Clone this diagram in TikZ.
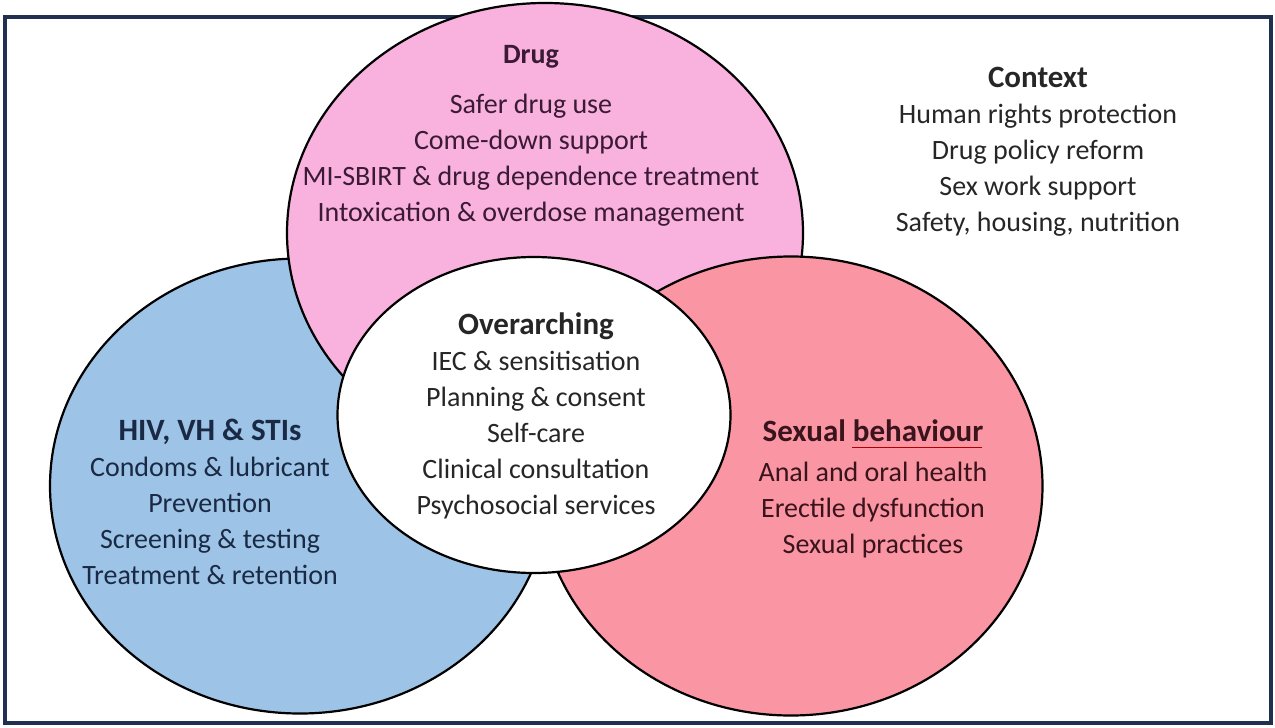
\documentclass[tikz,border=0pt]{standalone}
\usepackage{fontspec}
\setmainfont{Carlito}
\usetikzlibrary{shapes.geometric,positioning}
\definecolor{drugpink}{HTML}{F9B1DE}
\definecolor{hivblue}{HTML}{9DC3E6}
\definecolor{sexred}{HTML}{FA95A3}
\definecolor{framenavy}{HTML}{1F3050}
\definecolor{drugtext}{HTML}{3A1A35}
\definecolor{hivtext}{HTML}{1A2A45}
\definecolor{sextext}{HTML}{3A141C}
\definecolor{greytext}{HTML}{262626}
\newcommand{\settitle}[1]{{\fontsize{31}{36}\selectfont\bfseries #1}}
\tikzset{
  venn/.style={ellipse, draw=black, line width=2.2pt, inner sep=0pt, outer sep=0pt},
  blocktext/.style={align=center, inner sep=0pt, font=\fontsize{28}{36}\selectfont},
}

\begin{document}
\begin{tikzpicture}[x=1pt,y=-1pt]
	\useasboundingbox (0,0) rectangle (1275,728);
	\draw [framenavy, line width=4pt] (5,17) rectangle (1271,723);
	% the four sets
	\node [venn, fill=hivblue, minimum width=500pt, minimum height=455pt] (hiv) at (300,486) {};
	\node [venn, fill=drugpink, minimum width=516pt, minimum height=460pt] (drug) at (545,233) {};
	\node [venn, fill=sexred, minimum width=503pt, minimum height=459pt] (sex) at (791,486) {};
	\node [venn, fill=white, minimum width=393pt, minimum height=316pt] (over) at (534,415) {};
	% texts
	\node [blocktext, text=drugtext] (drugtxt) at (531,136) {\textbf{Drug}\\[14pt]
		Safer drug use\\ Come-down support\\ MI-SBIRT \& drug dependence treatment\\ Intoxication \& overdose management};
	\node [blocktext, text=greytext] (ctxtxt) at (1038,152) {\settitle{Context}\\
		Human rights protection\\ Drug policy reform\\ Sex work support\\ Safety, housing, nutrition};
	\node [blocktext, text=greytext] (overtxt) at (536,416) {\settitle{Overarching}\\
		IEC \& sensitisation\\ Planning \& consent\\ Self-care\\ Clinical consultation\\ Psychosocial services};
	\node [blocktext, text=hivtext] (hivtxt) at (210,502) {\settitle{HIV, VH \& STIs}\\
		Condoms \& lubricant\\ Prevention\\ Screening \& testing\\ Treatment \& retention};
	\node [blocktext, text=sextext] (sextxt) at (873,489) {\settitle{Sexual behaviour}\\[4pt]
		Anal and oral health\\ Erectile dysfunction\\ Sexual practices};
	\coordinate (ulstart) at (852,447);
	\coordinate (ulend) at (982,447);
	\draw [red!70!black, line width=0.8pt] (ulstart) -- (ulend);
\end{tikzpicture}
\end{document}
